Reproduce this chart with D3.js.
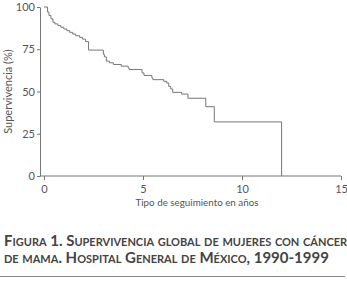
<!DOCTYPE html>
<html>
<head>
<meta charset="utf-8">
<script src="https://cdn.jsdelivr.net/npm/d3@7"></script>
<style>
  body { margin: 0; background: #fff; }
  svg { display: block; }
</style>
</head>
<body>
<div id="chart"></div>
<script>
// Kaplan-Meier curve: time (years) and survival (%) after each step
const times = [0, 0.18, 0.25, 0.35, 0.45, 0.55, 0.7, 0.85, 1.0, 1.15, 1.3, 1.45, 1.6, 1.8, 1.95, 2.1, 2.25,
  3.0, 3.05, 3.15, 3.3, 3.5, 3.9, 4.25, 4.3, 4.95, 5.05, 5.45, 5.5, 6.05, 6.2, 6.3, 6.4, 6.5, 6.95, 7.27,
  8.17, 8.6, 12.0];
const survival = [100, 97, 95, 93, 91, 90, 89, 88, 87, 86, 85, 84, 83, 82, 81, 79.5, 74.5,
  72, 70.5, 68, 67, 66, 65, 64, 63, 61, 59.5, 58, 57, 56, 55, 53, 51.5, 49.5, 48.5, 46,
  41, 32, 0];
const xTicks = [0, 5, 10, 15];
const yTicks = [0, 25, 50, 75, 100];
const xTitle = "Tipo de seguimiento en años";
const yTitle = "Supervivencia (%)";
const caption = [
  "Figura 1. Supervivencia global de mujeres con cáncer",
  "de mama. Hospital General de México, 1990-1999"
];

const width = 347, height = 284;
const axisColor = "#777";
const textColor = "#555";
const font = "Lato, 'Open Sans', sans-serif";

const svg = d3.select("#chart")
  .append("svg")
  .attr("width", width)
  .attr("height", height);

const x = d3.scaleLinear().domain([0, 15]).range([44, 341]);
const y = d3.scaleLinear().domain([0, 100]).range([176, 7]);
const axisLeft = 40;

// axes
const xAxis = svg.append("g")
  .attr("transform", `translate(0,${y(0)})`)
  .call(d3.axisBottom(x).tickValues(xTicks).tickSize(4).tickSizeOuter(0).tickFormat(d3.format("d")));
xAxis.select(".domain").attr("d", `M${axisLeft},0H${x(15)}`);

const yAxis = svg.append("g")
  .attr("transform", `translate(${axisLeft},0)`)
  .call(d3.axisLeft(y).tickValues(yTicks).tickSize(3).tickSizeOuter(0));

[xAxis, yAxis].forEach((a) => {
  a.select(".domain").attr("stroke", axisColor);
  a.selectAll(".tick line").attr("stroke", axisColor);
  a.selectAll(".tick text")
    .attr("fill", textColor)
    .style("font-family", font)
    .style("font-size", "11px");
});
xAxis.selectAll(".tick text").attr("dy", "0.9em");
yAxis.selectAll(".tick text").attr("x", -5);

// survival curve
const data = times.map((t, i) => ({ t, s: survival[i] }));
const line = d3.line()
  .x((d) => x(d.t))
  .y((d) => y(d.s))
  .curve(d3.curveStepAfter);

svg.append("path")
  .datum(data)
  .attr("fill", "none")
  .attr("stroke", "#777")
  .attr("stroke-width", 1)
  .attr("d", line);

// titles
svg.append("text")
  .attr("x", 197)
  .attr("y", 206)
  .attr("text-anchor", "middle")
  .attr("fill", textColor)
  .style("font-family", font)
  .style("font-size", "9.8px")
  .text(xTitle);

svg.append("text")
  .attr("transform", `translate(12,${(y(0) + y(100)) / 2}) rotate(-90)`)
  .attr("text-anchor", "middle")
  .attr("fill", textColor)
  .style("font-family", font)
  .style("font-size", "11px")
  .text(yTitle);

// caption
svg.selectAll(".caption")
  .data(caption)
  .enter()
  .append("text")
  .attr("class", "caption")
  .attr("x", 4)
  .attr("y", (d, i) => 246 + i * 17)
  .attr("fill", "#444")
  .style("font-family", font)
  .style("font-size", "15px")
  .style("font-weight", "bold")
  .style("font-variant", "small-caps")
  .text((d) => d);

svg.append("line")
  .attr("x1", 0)
  .attr("x2", 345)
  .attr("y1", 276.5)
  .attr("y2", 276.5)
  .attr("stroke", "#888")
  .attr("stroke-width", 1);
</script>
</body>
</html>
